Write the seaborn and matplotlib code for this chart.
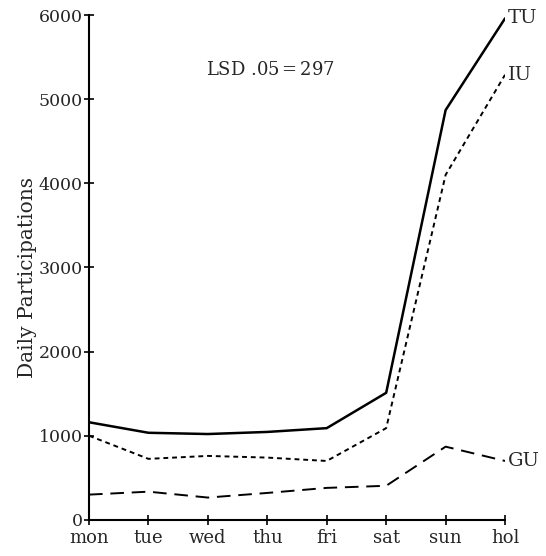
import matplotlib
matplotlib.use("Agg")
import matplotlib.pyplot as plt
import seaborn as sns
import pandas as pd

days = ["mon", "tue", "wed", "thu", "fri", "sat", "sun", "hol"]
tu = [1160, 1035, 1020, 1045, 1090, 1510, 4870, 5960]
iu = [1000, 725, 760, 740, 700, 1090, 4100, 5290]
gu = [300, 335, 265, 320, 380, 405, 870, 700]
yticks = [0, 1000, 2000, 3000, 4000, 5000, 6000]

sns.set_style("white")
plt.rcParams['font.family'] = ['DejaVu Serif']

fig = plt.figure(figsize=(5.46, 5.56), dpi=100)
ax = fig.add_axes([0.163, 0.065, 0.762, 0.908])

x = list(range(len(days)))
sns.lineplot(x=x, y=tu, ax=ax, color="black", lw=1.8)
sns.lineplot(x=x, y=iu, ax=ax, color="black", lw=1.4)
ax.lines[-1].set_dashes((2.5, 2))
sns.lineplot(x=x, y=gu, ax=ax, color="black", lw=1.4)
ax.lines[-1].set_dashes((7, 4))

ax.set_xlim(0, 7)
ax.set_ylim(0, 6000)
ax.set_xticks(x)
ax.set_xticklabels(days, fontsize=13)
ax.set_yticks(yticks)
ax.set_yticklabels([str(v) for v in yticks], fontsize=12.5)
ax.tick_params(bottom=True, left=True, direction="inout", length=7, width=1.2,
               color="black", pad=1)
ax.tick_params(axis="x", pad=3)
for s in ["top", "right"]:
    ax.spines[s].set_visible(False)
for s in ["left", "bottom"]:
    ax.spines[s].set_color("black")
    ax.spines[s].set_linewidth(1.5)
ax.set_ylabel("Daily Participations", fontsize=14.5)
ax.yaxis.set_label_coords(-0.125, 0.48)

ax.text(7.05, tu[-1], "TU", fontsize=14, va="center", ha="left", clip_on=False)
ax.text(7.05, iu[-1], "IU", fontsize=14, va="center", ha="left", clip_on=False)
ax.text(7.05, gu[-1], "GU", fontsize=14, va="center", ha="left", clip_on=False)
ax.text(3.05, 5345, "LSD .05$\\,$=$\\,$297", fontsize=13, ha="center", va="center")

fig.savefig("out.png", dpi=100)
